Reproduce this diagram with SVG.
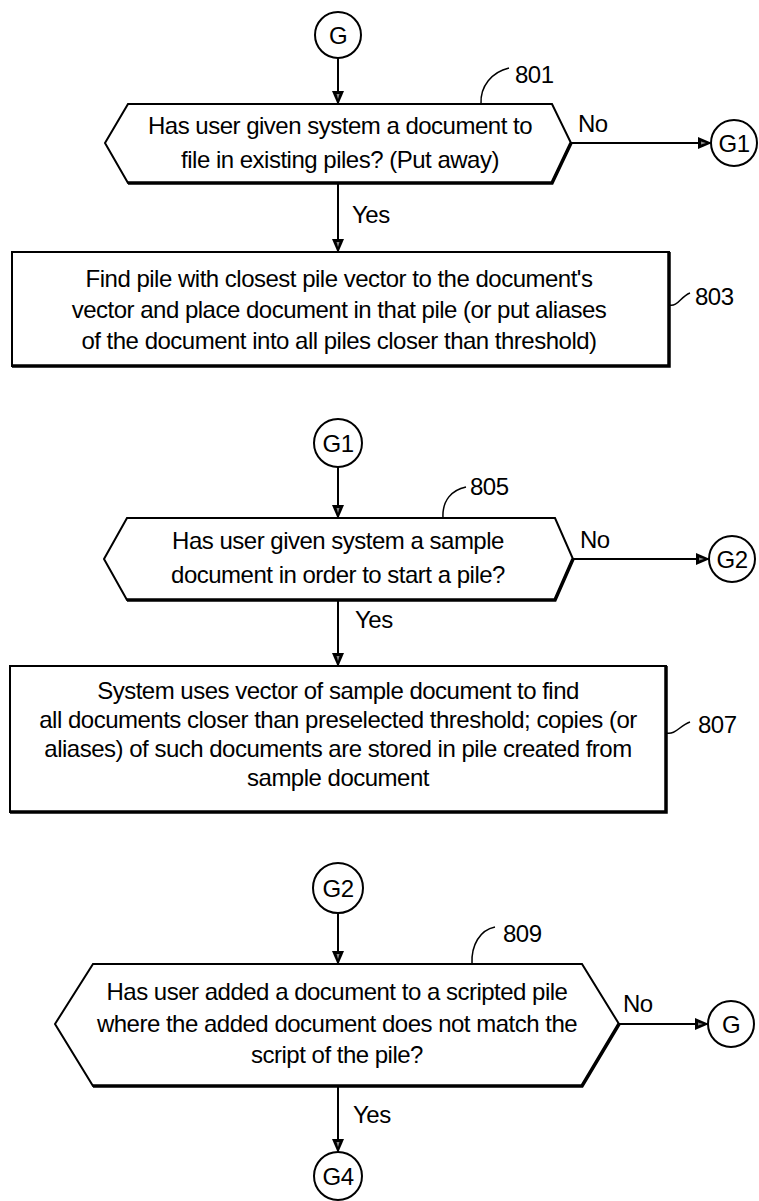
<svg xmlns="http://www.w3.org/2000/svg" width="759" height="1201" viewBox="0 0 759 1201">
<defs>
<style>
text{font-family:"Liberation Sans",Arial,sans-serif;font-size:24px;letter-spacing:-0.5px;fill:#000}
.c{text-anchor:middle}
.shape{fill:#fff;stroke:#000;stroke-width:2;stroke-linejoin:miter}
.shadow{fill:none;stroke:#000;stroke-width:3.5}
.conn{fill:none;stroke:#000;stroke-width:2}
.lead{fill:none;stroke:#000;stroke-width:1.5}
</style>
<marker id="arr" viewBox="0 0 14 12" refX="13" refY="6" markerWidth="14" markerHeight="12" markerUnits="userSpaceOnUse" orient="auto">
<path d="M0,0 L14,6 L0,12 Z" fill="#000"/>
<path d="M3,4.5 L8,6 L3,7.5 Z" fill="#888"/>
</marker>
</defs>
<rect width="759" height="1201" fill="#fff"/>

<g id="connectors">
<line class="conn" x1="338" y1="58" x2="338" y2="104" marker-end="url(#arr)"/>
<line class="conn" x1="338" y1="184" x2="338" y2="252" marker-end="url(#arr)"/>
<line class="conn" x1="571" y1="143" x2="711" y2="143" marker-end="url(#arr)"/>
<line class="conn" x1="338" y1="467" x2="338" y2="518" marker-end="url(#arr)"/>
<line class="conn" x1="338" y1="601" x2="338" y2="666" marker-end="url(#arr)"/>
<line class="conn" x1="573" y1="559" x2="709" y2="559" marker-end="url(#arr)"/>
<line class="conn" x1="338" y1="913" x2="338" y2="964" marker-end="url(#arr)"/>
<line class="conn" x1="619" y1="1024" x2="708" y2="1024" marker-end="url(#arr)"/>
<line class="conn" x1="338" y1="1087" x2="338" y2="1152" marker-end="url(#arr)"/>
<text x="578" y="132">No</text>
<text x="352" y="223">Yes</text>
<text x="580" y="548">No</text>
<text x="355" y="628">Yes</text>
<text x="623" y="1012">No</text>
<text x="353" y="1123">Yes</text>
</g>

<g id="G-top">
<circle class="shape" cx="338" cy="35" r="23"/>
<text class="c" x="338" y="44">G</text>
</g>

<g id="n801">
<polygon class="shape" points="105,143 128,104 552,104 571,143 552,183 128,183"/>
<polyline class="shadow" points="128,183 552,183 571,143"/>
<text class="c" x="340" y="134">Has user given system a document to</text>
<text class="c" x="340" y="168">file in existing piles? (Put away)</text>
<path class="lead" d="M481,104 C480,86 492,72 509,68"/>
<text x="515" y="83">801</text>
</g>

<g id="G1-out">
<circle class="shape" cx="734" cy="143" r="23"/>
<text class="c" x="734" y="152">G1</text>
</g>

<g id="n803">
<rect class="shape" x="12" y="252" width="657" height="114"/>
<polyline class="shadow" points="12,366 669,366 669,252"/>
<text class="c" x="339" y="287">Find pile with closest pile vector to the document's</text>
<text class="c" x="339" y="318">vector and place document in that pile (or put aliases</text>
<text class="c" x="339" y="349">of the document into all piles closer than threshold)</text>
<path class="lead" d="M669,305 C678,307 680,297 690,293"/>
<text x="695" y="305">803</text>
</g>

<g id="G1-in">
<circle class="shape" cx="338" cy="443" r="24"/>
<text class="c" x="338" y="452">G1</text>
</g>

<g id="n805">
<polygon class="shape" points="104,559 127,518 555,518 573,559 555,600 127,600"/>
<polyline class="shadow" points="127,600 555,600 573,559"/>
<text class="c" x="338" y="549">Has user given system a sample</text>
<text class="c" x="338" y="583">document in order to start a pile?</text>
<path class="lead" d="M443,518 C442,500 452,490 466,487"/>
<text x="470" y="495">805</text>
</g>

<g id="G2-out">
<circle class="shape" cx="732" cy="559" r="23"/>
<text class="c" x="732" y="568">G2</text>
</g>

<g id="n807">
<rect class="shape" x="10" y="666" width="656" height="146"/>
<polyline class="shadow" points="10,812 666,812 666,666"/>
<text class="c" x="338" y="699">System uses vector of sample document to find</text>
<text class="c" x="338" y="728">all documents closer than preselected threshold; copies (or</text>
<text class="c" x="338" y="757">aliases) of such documents are stored in pile created from</text>
<text class="c" x="338" y="786">sample document</text>
<path class="lead" d="M666,733 C676,735 679,726 690,722"/>
<text x="698" y="733">807</text>
</g>

<g id="G2-in">
<circle class="shape" cx="338" cy="888" r="25"/>
<text class="c" x="338" y="897">G2</text>
</g>

<g id="n809">
<polygon class="shape" points="55,1024 93,964 582,964 619,1024 582,1086 93,1086"/>
<polyline class="shadow" points="93,1086 582,1086 619,1024"/>
<text class="c" x="337" y="1000">Has user added a document to a scripted pile</text>
<text class="c" x="337" y="1032">where the added document does not match the</text>
<text class="c" x="337" y="1063">script of the pile?</text>
<path class="lead" d="M472,964 C471,945 480,930 495,927"/>
<text x="503" y="942">809</text>
</g>

<g id="G-out">
<circle class="shape" cx="731" cy="1024" r="23"/>
<text class="c" x="731" y="1033">G</text>
</g>

<g id="G4">
<circle class="shape" cx="338" cy="1176" r="24"/>
<text class="c" x="338" y="1185">G4</text>
</g>
</svg>
